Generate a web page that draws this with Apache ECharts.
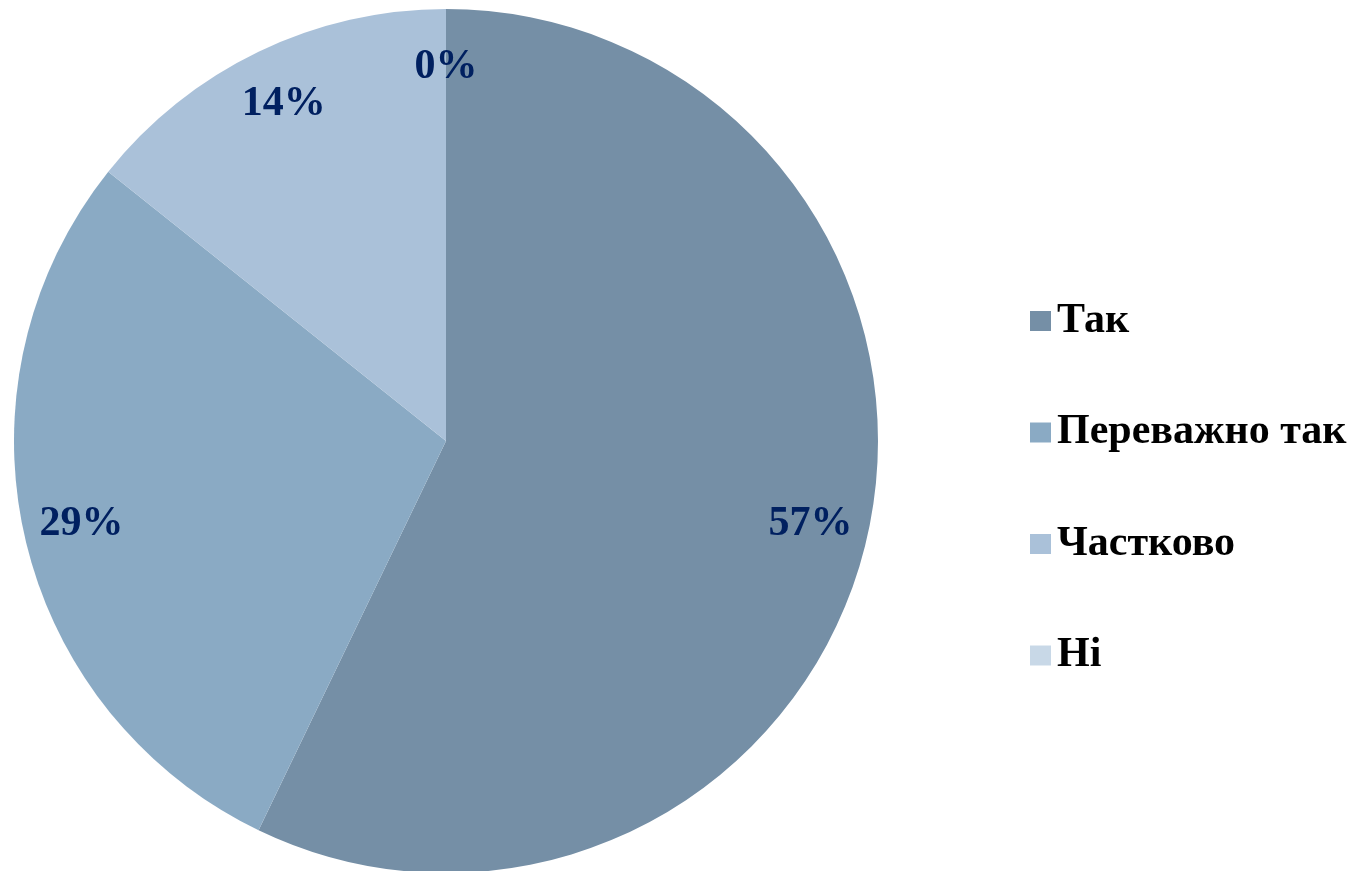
<!DOCTYPE html>
<html>
<head>
<meta charset="utf-8">
<script src="https://cdn.jsdelivr.net/npm/echarts@6/dist/echarts.min.js"></script>
<style>
  html, body { margin: 0; padding: 0; background: #fff; }
  #chart { width: 1358px; height: 871px; }
</style>
</head>
<body>
<div id="chart"></div>
<script>
const categories = ['Так', 'Переважно так', 'Частково', 'Ні'];
const values = [4, 2, 1, 0];
const COLORS = ['#758FA6', '#8AAAC4', '#AAC1D9', '#C8D8E7'];

const total = values.reduce((a, b) => a + b, 0);
const pieData = categories.map((name, i) => ({
  name, value: values[i], itemStyle: { color: COLORS[i] }
}));

const chart = echarts.init(document.getElementById('chart'));

const option = {
  animation: false,
  legend: {
    orient: 'vertical',
    left: 1025, top: 295,
    itemWidth: 21, itemHeight: 20, itemGap: 69.5,
    icon: 'rect',
    data: categories,
    textStyle: {
      fontFamily: 'Liberation Serif', fontWeight: 'bold',
      fontSize: 42, lineHeight: 40, color: '#000', padding: [0, 0, 0, 1]
    }
  },
  series: [
    {
      name: 'main', type: 'pie',
      center: [446, 441], radius: [0, 432],
      startAngle: 90, clockwise: true,
      silent: true,
      label: { show: false }, labelLine: { show: false },
      data: pieData
    },
    {
      // transparent ring, only used to place the percentage labels near the rim
      name: 'labels', type: 'pie',
      center: [446, 441], radius: [310, 432],
      startAngle: 90, clockwise: true,
      silent: true,
      itemStyle: { color: 'rgba(0,0,0,0)' },
      legendHoverLink: false,
      label: {
        show: true, position: 'inside',
        formatter: p => Math.round(p.value / total * 100) + '%',
        fontFamily: 'Liberation Serif', fontWeight: 'bold',
        fontSize: 42, color: '#002060'
      },
      labelLine: { show: false },
      data: categories.map((name, i) => ({ name: name + ' ', value: values[i] }))
    }
  ]
};

chart.setOption(option);
</script>
</body>
</html>
